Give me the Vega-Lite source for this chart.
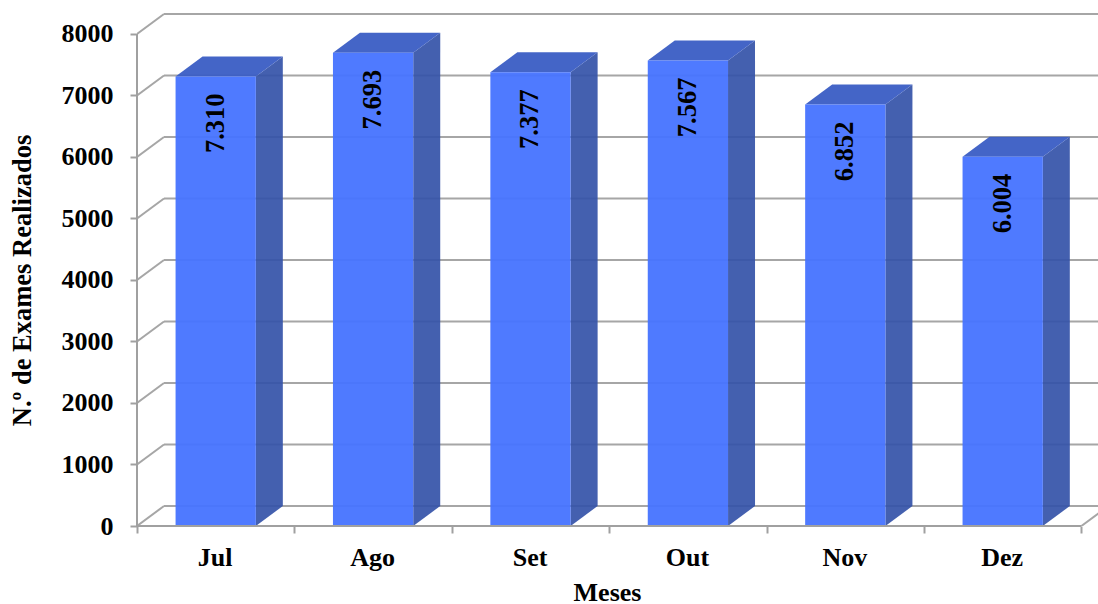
{
  "$schema": "https://vega.github.io/schema/vega-lite/v6.json",
  "width": 961,
  "height": 513,
  "padding": {"left": 137, "top": 13, "right": 0, "bottom": 78},
  "autosize": "none",
  "background": "white",
  "view": {"stroke": null},
  "datasets": {
    "exames": [
      {"mes": "Jul", "ordem": 0, "exames": 7310, "rotulo": "7.310"},
      {"mes": "Ago", "ordem": 1, "exames": 7693, "rotulo": "7.693"},
      {"mes": "Set", "ordem": 2, "exames": 7377, "rotulo": "7.377"},
      {"mes": "Out", "ordem": 3, "exames": 7567, "rotulo": "7.567"},
      {"mes": "Nov", "ordem": 4, "exames": 6852, "rotulo": "6.852"},
      {"mes": "Dez", "ordem": 5, "exames": 6004, "rotulo": "6.004"}
    ],
    "grade": [
      {"nivel": 0}, {"nivel": 1000}, {"nivel": 2000}, {"nivel": 3000}, {"nivel": 4000},
      {"nivel": 5000}, {"nivel": 6000}, {"nivel": 7000}, {"nivel": 8000}
    ]
  },
  "config": {
    "font": "Liberation Serif",
    "axis": {"labelFont": "Liberation Serif", "titleFont": "Liberation Serif", "labelFontWeight": "bold", "titleFontWeight": "bold", "labelColor": "#000000", "titleColor": "#000000", "grid": false, "domain": false, "tickColor": "#a0a0a0", "tickWidth": 2}
  },
  "layer": [
    {
      "description": "Back wall gridlines, shifted by the chart depth",
      "data": {"name": "grade"},
      "transform": [{"calculate": "datum.nivel + 325", "as": "fundo"}],
      "mark": {"type": "rule", "color": "#a6a6a6", "strokeWidth": 2, "clip": true},
      "encoding": {
        "x": {
          "datum": 0.1715,
          "type": "quantitative",
          "scale": {"domain": [0, 6.1055], "nice": false, "zero": false},
          "axis": {
            "values": [0, 0.5, 1, 1.5, 2, 2.5, 3, 3.5, 4, 4.5, 5, 5.5, 6],
            "labelExpr": "datum.value % 1 ? ['Jul', 'Ago', 'Set', 'Out', 'Nov', 'Dez'][floor(datum.value)] : ''",
            "tickOpacity": {"condition": {"test": "datum.value % 1 == 0", "value": 1}, "value": 0},
            "labelOverlap": false,
            "labelFlush": false,
            "labelFontSize": 26,
            "labelOffset": -1,
            "labelPadding": 11,
            "tickSize": 7,
            "title": "Meses",
            "titleFontSize": 26,
            "titleBaseline": "middle",
            "titleX": 470,
            "titleY": 66
          }
        },
        "x2": {"datum": 6.1055},
        "y": {
          "field": "fundo",
          "type": "quantitative",
          "scale": {"domain": [0, 8341], "nice": false, "zero": false},
          "axis": {
            "values": [0, 1000, 2000, 3000, 4000, 5000, 6000, 7000, 8000],
            "format": "d",
            "labelFontSize": 26,
            "labelPadding": 17,
            "tickSize": 7,
            "title": "N.º de Exames Realizados",
            "titleFontSize": 26.5,
            "titleBaseline": "middle",
            "titleX": -115,
            "titleY": 267
          }
        }
      }
    },
    {
      "description": "Side wall lines running from the axis into the depth",
      "data": {"name": "grade"},
      "transform": [{"calculate": "datum.nivel + 325", "as": "fundo"}],
      "mark": {"type": "rule", "color": "#a6a6a6", "strokeWidth": 2, "clip": true},
      "encoding": {
        "x": {"datum": 0, "type": "quantitative"},
        "x2": {"datum": 0.1715},
        "y": {"field": "nivel", "type": "quantitative"},
        "y2": {"field": "fundo"}
      }
    },
    {
      "description": "Floor edge on the right of the chart",
      "data": {"values": [{"nivel": 0}]},
      "transform": [{"calculate": "datum.nivel + 325", "as": "fundo"}],
      "mark": {"type": "rule", "color": "#a6a6a6", "strokeWidth": 2, "clip": true},
      "encoding": {
        "x": {"datum": 6, "type": "quantitative"},
        "x2": {"datum": 6.1715},
        "y": {"field": "nivel", "type": "quantitative"},
        "y2": {"field": "fundo"}
      }
    },
    {
      "description": "Right side face of each bar",
      "data": {"name": "exames"},
      "transform": [
        {"calculate": "[0, 1]", "as": "t"},
        {"flatten": ["t"]},
        {"calculate": "datum.ordem + 0.755 + datum.t * 0.1715", "as": "px"},
        {"calculate": "datum.t * 325", "as": "base"},
        {"calculate": "datum.exames + datum.t * 325", "as": "topo"}
      ],
      "mark": {"type": "area", "color": "#3453a8", "opacity": 0.92, "clip": true, "interpolate": "linear"},
      "encoding": {
        "x": {"field": "px", "type": "quantitative"},
        "y": {"field": "base", "type": "quantitative"},
        "y2": {"field": "topo"},
        "detail": {"field": "mes"}
      }
    },
    {
      "description": "Top face of each bar",
      "data": {"name": "exames"},
      "transform": [
        {"calculate": "[0, 0.1715, 0.51, 0.6815]", "as": "dx"},
        {"calculate": "[0, 0, 0, 325]", "as": "dbaixo"},
        {"calculate": "[0, 325, 325, 325]", "as": "dcima"},
        {"flatten": ["dx", "dbaixo", "dcima"]},
        {"calculate": "datum.ordem + 0.245 + datum.dx", "as": "px"},
        {"calculate": "datum.exames + datum.dbaixo", "as": "base"},
        {"calculate": "datum.exames + datum.dcima", "as": "topo"}
      ],
      "mark": {"type": "area", "color": "#3a5dc4", "opacity": 0.95, "clip": true, "interpolate": "linear"},
      "encoding": {
        "x": {"field": "px", "type": "quantitative"},
        "y": {"field": "base", "type": "quantitative"},
        "y2": {"field": "topo"},
        "detail": {"field": "mes"}
      }
    },
    {
      "description": "Front face of each bar",
      "data": {"name": "exames"},
      "transform": [
        {"calculate": "datum.ordem + 0.245", "as": "x0"},
        {"calculate": "datum.ordem + 0.755", "as": "x1"}
      ],
      "mark": {"type": "rect", "color": "#4673ff", "opacity": 0.95},
      "encoding": {
        "x": {"field": "x0", "type": "quantitative"},
        "x2": {"field": "x1"},
        "y": {"field": "exames", "type": "quantitative"},
        "y2": {"datum": 0}
      }
    },
    {
      "description": "Front edge of the floor",
      "data": {"values": [{"nivel": 0}]},
      "mark": {"type": "rule", "color": "#a0a0a0", "strokeWidth": 2},
      "encoding": {
        "x": {"datum": 0, "type": "quantitative"},
        "x2": {"datum": 6},
        "y": {"field": "nivel", "type": "quantitative"}
      }
    },
    {
      "description": "Vertical value axis line",
      "data": {"values": [{"nivel": 0, "teto": 8000}]},
      "mark": {"type": "rule", "color": "#a0a0a0", "strokeWidth": 2},
      "encoding": {
        "x": {"datum": 0, "type": "quantitative"},
        "y": {"field": "nivel", "type": "quantitative"},
        "y2": {"field": "teto"}
      }
    },
    {
      "description": "Value labels read upward inside each bar",
      "data": {"name": "exames"},
      "transform": [{"calculate": "datum.ordem + 0.5", "as": "centro"}],
      "mark": {"type": "text", "font": "Liberation Serif", "fontWeight": "bold", "fontSize": 26.5, "angle": 270, "align": "right", "baseline": "middle", "dx": -17, "color": "#000000"},
      "encoding": {
        "x": {"field": "centro", "type": "quantitative"},
        "y": {"field": "exames", "type": "quantitative"},
        "text": {"field": "rotulo"}
      }
    }
  ]
}
